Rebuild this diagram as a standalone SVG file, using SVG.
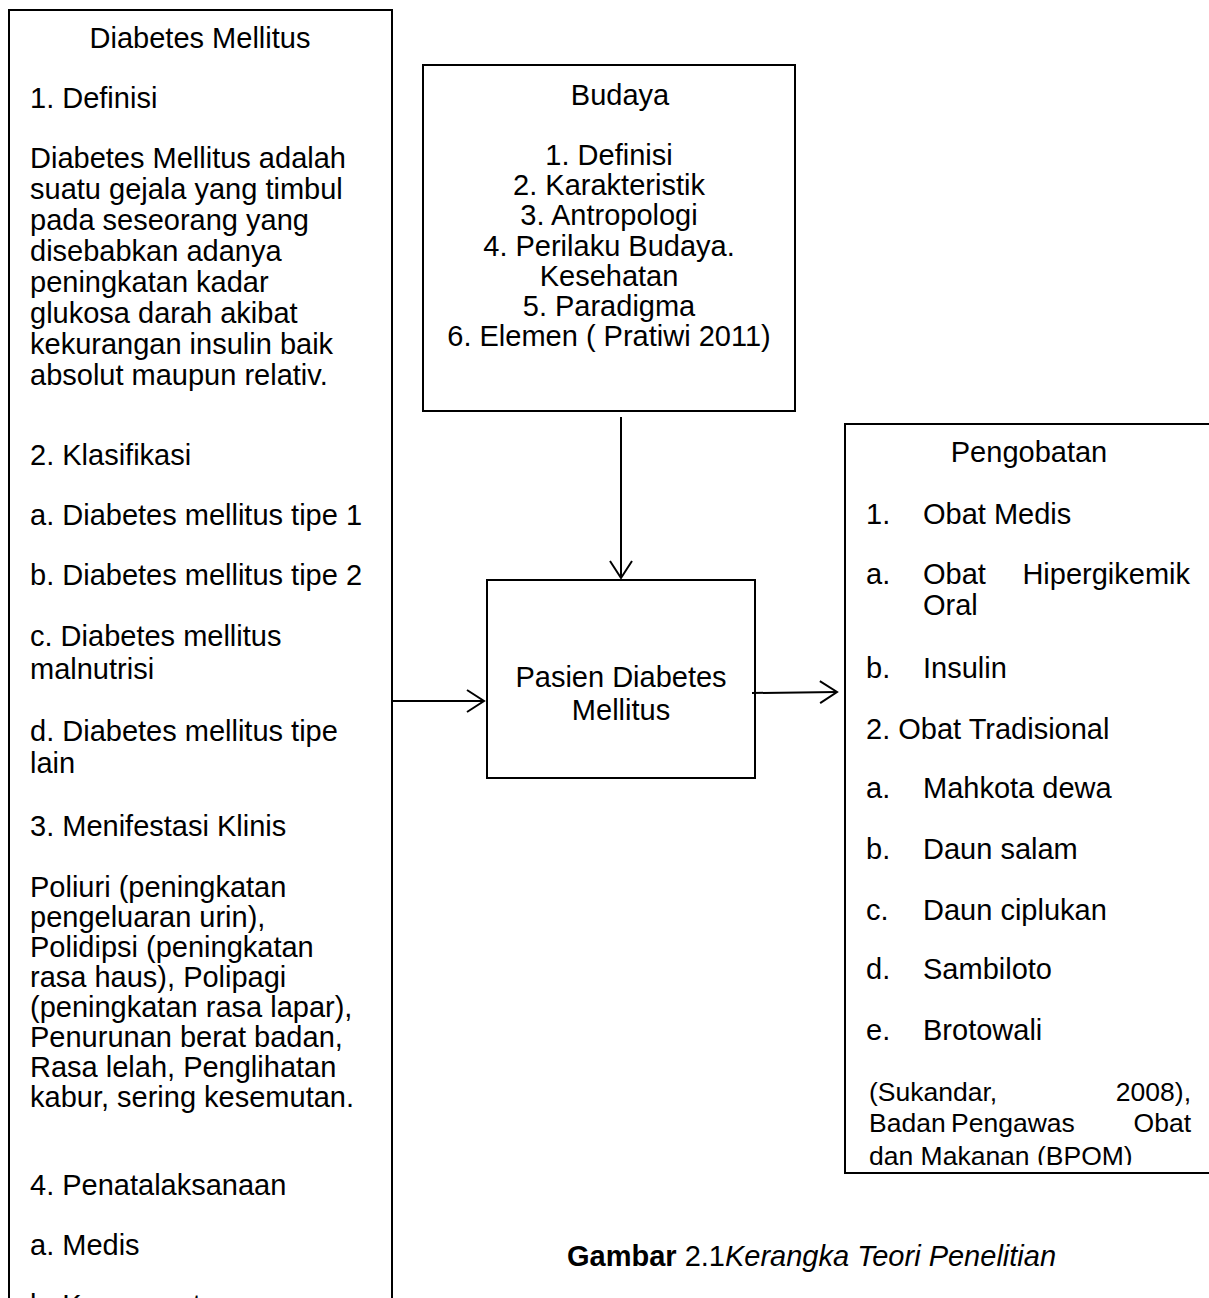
<svg xmlns="http://www.w3.org/2000/svg" width="1209" height="1298" viewBox="0 0 1209 1298">
<style>
text{font-family:"Liberation Sans",Arial,sans-serif;font-size:29px;fill:#000}
.c{text-anchor:middle}
.e{text-anchor:end}
.s{font-size:26.5px}
.box{fill:none;stroke:#000;stroke-width:2}
.ln{fill:none;stroke:#000;stroke-width:2}
</style>
<defs>
<marker id="arr" markerWidth="22" markerHeight="26" refX="20" refY="13" orient="auto" markerUnits="userSpaceOnUse">
<path d="M3,2 L20,13 L3,24" fill="none" stroke="#000" stroke-width="2"/>
</marker>
<clipPath id="clipR"><rect x="845" y="424" width="364" height="741"/></clipPath>
</defs>
<rect width="1209" height="1298" fill="#fff"/>
<g id="node-diabetes">
<path class="box" d="M9,1298 V10 H392 V1298"/>
<text class="c" x="200" y="48">Diabetes Mellitus</text>
<text x="30" y="108">1. Definisi</text>
<text x="30" y="168">Diabetes Mellitus adalah</text>
<text x="30" y="199">suatu gejala yang timbul</text>
<text x="30" y="230">pada seseorang yang</text>
<text x="30" y="261">disebabkan adanya</text>
<text x="30" y="292">peningkatan kadar</text>
<text x="30" y="323">glukosa darah akibat</text>
<text x="30" y="354">kekurangan insulin baik</text>
<text x="30" y="385">absolut maupun relativ.</text>
<text x="30" y="465">2. Klasifikasi</text>
<text x="30" y="525">a. Diabetes mellitus tipe 1</text>
<text x="30" y="585">b. Diabetes mellitus tipe 2</text>
<text x="30" y="646">c. Diabetes mellitus</text>
<text x="30" y="679">malnutrisi</text>
<text x="30" y="741">d.  Diabetes mellitus tipe</text>
<text x="30" y="773">lain</text>
<text x="30" y="836">3. Menifestasi Klinis</text>
<text x="30" y="897">Poliuri (peningkatan</text>
<text x="30" y="927">pengeluaran urin),</text>
<text x="30" y="957">Polidipsi (peningkatan</text>
<text x="30" y="987">rasa haus), Polipagi</text>
<text x="30" y="1017">(peningkatan rasa lapar),</text>
<text x="30" y="1047">Penurunan berat badan,</text>
<text x="30" y="1077">Rasa lelah, Penglihatan</text>
<text x="30" y="1107">kabur, sering kesemutan.</text>
<text x="30" y="1195">4. Penatalaksanaan</text>
<text x="30" y="1255">a. Medis</text>
<text x="30" y="1315">b. Keperawatan</text>
</g>
<g id="node-budaya">
<rect class="box" x="423" y="65" width="372" height="346"/>
<text class="c" x="620" y="105">Budaya</text>
<text class="c" x="609" y="165">1. Definisi</text>
<text class="c" x="609" y="195">2. Karakteristik</text>
<text class="c" x="609" y="225">3. Antropologi</text>
<text class="c" x="609" y="256">4. Perilaku Budaya.</text>
<text class="c" x="609" y="286">Kesehatan</text>
<text class="c" x="609" y="316">5. Paradigma</text>
<text class="c" x="609" y="346">6. Elemen ( Pratiwi 2011)</text>
</g>
<g id="node-pasien">
<rect class="box" x="487" y="580" width="268" height="198"/>
<text class="c" x="621" y="687">Pasien Diabetes</text>
<text class="c" x="621" y="720">Mellitus</text>
</g>
<g id="node-pengobatan">
<path class="box" d="M1209,424 H845 V1173 H1209"/>
<g clip-path="url(#clipR)">
<text class="c" x="1029" y="462">Pengobatan</text>
<text x="866" y="524">1.</text><text x="923" y="524">Obat Medis</text>
<text x="866" y="584">a.</text><text x="923" y="584">Obat</text><text class="e" x="1190" y="584">Hipergikemik</text>
<text x="923" y="615">Oral</text>
<text x="866" y="678">b.</text><text x="923" y="678">Insulin</text>
<text x="866" y="739">2. Obat Tradisional</text>
<text x="866" y="798">a.</text><text x="923" y="798">Mahkota dewa</text>
<text x="866" y="859">b.</text><text x="923" y="859">Daun salam</text>
<text x="866" y="920">c.</text><text x="923" y="920">Daun ciplukan</text>
<text x="866" y="979">d.</text><text x="923" y="979">Sambiloto</text>
<text x="866" y="1040">e.</text><text x="923" y="1040">Brotowali</text>
<text class="s" x="869" y="1101">(Sukandar,</text><text class="s e" x="1191" y="1101">2008),</text>
<text class="s" x="869" y="1132">Badan</text><text class="s" x="951" y="1132">Pengawas</text><text class="s e" x="1191" y="1132">Obat</text>
<text class="s" x="869" y="1165">dan Makanan (BPOM)</text>
</g>
</g>
<g id="connectors">
<line class="ln" x1="621" y1="417" x2="621" y2="578" marker-end="url(#arr)"/>
<line class="ln" x1="392" y1="701" x2="484" y2="701" marker-end="url(#arr)"/>
<line class="ln" x1="752" y1="693" x2="837" y2="692" marker-end="url(#arr)"/>
</g>
<g id="caption">
<text x="567" y="1266"><tspan font-weight="bold">Gambar</tspan> 2.1<tspan font-style="italic">Kerangka Teori Penelitian</tspan></text>
</g>
</svg>
